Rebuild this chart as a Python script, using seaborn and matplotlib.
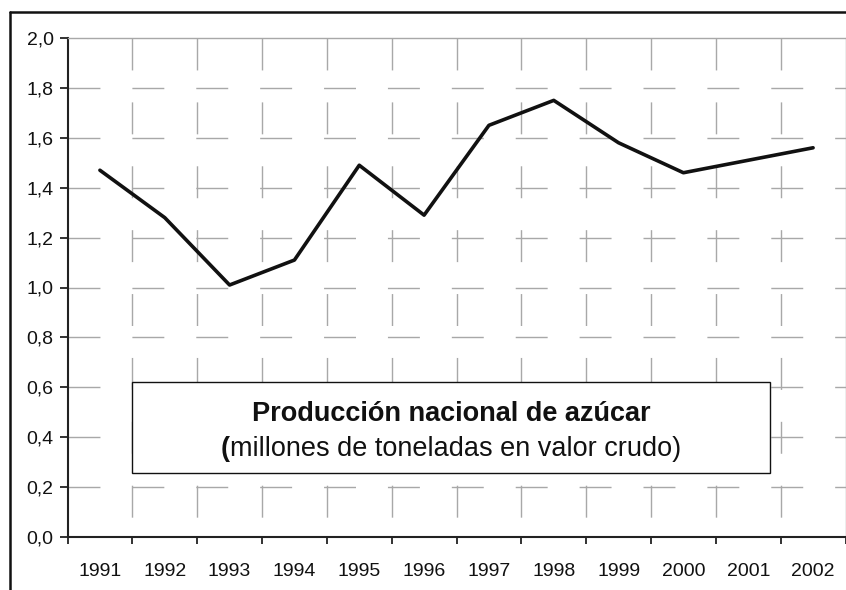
import matplotlib
matplotlib.use("Agg")
import matplotlib.pyplot as plt
import seaborn as sns
import pandas as pd
from matplotlib.ticker import FixedLocator, FuncFormatter
from matplotlib.patches import Rectangle
from matplotlib.lines import Line2D
from matplotlib.offsetbox import TextArea, HPacker, VPacker, AnnotationBbox

# Sugar production, millions of tonnes (raw value)
years = ["1991", "1992", "1993", "1994", "1995", "1996",
         "1997", "1998", "1999", "2000", "2001", "2002"]
production = [1.47, 1.28, 1.01, 1.11, 1.49, 1.29,
              1.65, 1.75, 1.58, 1.46, 1.51, 1.56]
y_ticks = [0.0, 0.2, 0.4, 0.6, 0.8, 1.0, 1.2, 1.4, 1.6, 1.8, 2.0]
title_text = "Producción nacional de azúcar"
subtitle_text = "millones de toneladas en valor crudo)"

sns.set_style("white")
plt.rcParams["font.family"] = ["Liberation Sans", "DejaVu Sans"]
plt.rcParams["lines.scale_dashes"] = False

df = pd.DataFrame({"year": years, "production": production})

fig = plt.figure(figsize=(8.46, 5.90), dpi=100)
W, H = 846, 590
left, right, top, bottom = 67.5, 845.5, 38, 537
ax = fig.add_axes([left / W, 1 - bottom / H, (right - left) / W, (bottom - top) / H])

n = len(years)
ax.set_xlim(-0.5, n - 0.5)
ax.set_ylim(0, 2.0)

grid_kw = dict(color="#a8a8a8", lw=1.0, linestyle=(0, (23, 23)), zorder=1)
for yv in y_ticks[1:-1]:
    ax.axhline(yv, **grid_kw)
for k in range(1, n):
    ax.axvline(k - 0.5, ymin=1, ymax=0, **grid_kw)

sns.lineplot(data=df, x="year", y="production", ax=ax, color="#111111",
             lw=2.6, sort=False, zorder=3)

# category boundaries carry the tick marks, labels sit in the middle
ax.xaxis.set_major_locator(FixedLocator([k - 0.5 for k in range(n + 1)]))
ax.xaxis.set_major_formatter(FuncFormatter(lambda v, p: ""))
ax.xaxis.set_minor_locator(FixedLocator(list(range(n))))
ax.xaxis.set_minor_formatter(FuncFormatter(lambda v, p: years[int(round(v))]))
ax.tick_params(axis="x", which="major", direction="out", length=5, width=1.3,
               color="#222222", bottom=True)
ax.tick_params(axis="x", which="minor", length=0, pad=19, labelsize=14,
               labelcolor="#111111")

ax.yaxis.set_major_locator(FixedLocator(y_ticks))
ax.yaxis.set_major_formatter(FuncFormatter(lambda v, p: f"{v:.1f}".replace(".", ",")))
ax.tick_params(axis="y", direction="out", length=6, width=1.3, color="#222222",
               left=True, labelsize=14, labelcolor="#111111", pad=4)
ax.set_xlabel("")
ax.set_ylabel("")

for side in ("left", "bottom"):
    ax.spines[side].set_color("#222222")
    ax.spines[side].set_linewidth(1.5)
for side in ("top", "right"):
    ax.spines[side].set_color("#a8a8a8")
    ax.spines[side].set_linewidth(1.0)
for sp in ax.spines.values():
    sp.set_zorder(4)

# caption box
bx0 = (132 - left) / (right - left)
bx1 = (770 - left) / (right - left)
by0 = (bottom - 473) / (bottom - top)
by1 = (bottom - 382) / (bottom - top)
ax.add_patch(Rectangle((bx0, by0), bx1 - bx0, by1 - by0, transform=ax.transAxes,
                       facecolor="white", edgecolor="#111111", lw=1.0, zorder=5))

t1 = TextArea(title_text, textprops=dict(fontsize=19.5, fontweight="bold", color="#111111"))
p_open = TextArea("(", textprops=dict(fontsize=19.5, fontweight="bold", color="#111111"))
p_rest = TextArea(subtitle_text, textprops=dict(fontsize=19.5, color="#111111"))
line2 = HPacker(children=[p_open, p_rest], align="baseline", pad=0, sep=0)
stack = VPacker(children=[t1, line2], align="center", pad=0, sep=6.5)
ab = AnnotationBbox(stack, ((bx0 + bx1) / 2, (by0 + by1) / 2 - 0.008),
                    xycoords="axes fraction", frameon=False,
                    box_alignment=(0.5, 0.5), zorder=6)
ax.add_artist(ab)

# outer chart frame
fig.add_artist(Line2D([10 / W, 1.0], [1 - 12 / H, 1 - 12 / H], color="#111111", lw=1.8))
fig.add_artist(Line2D([10 / W, 10 / W], [0.0, 1 - 12 / H], color="#111111", lw=1.8))

fig.savefig("out.png", dpi=100)
